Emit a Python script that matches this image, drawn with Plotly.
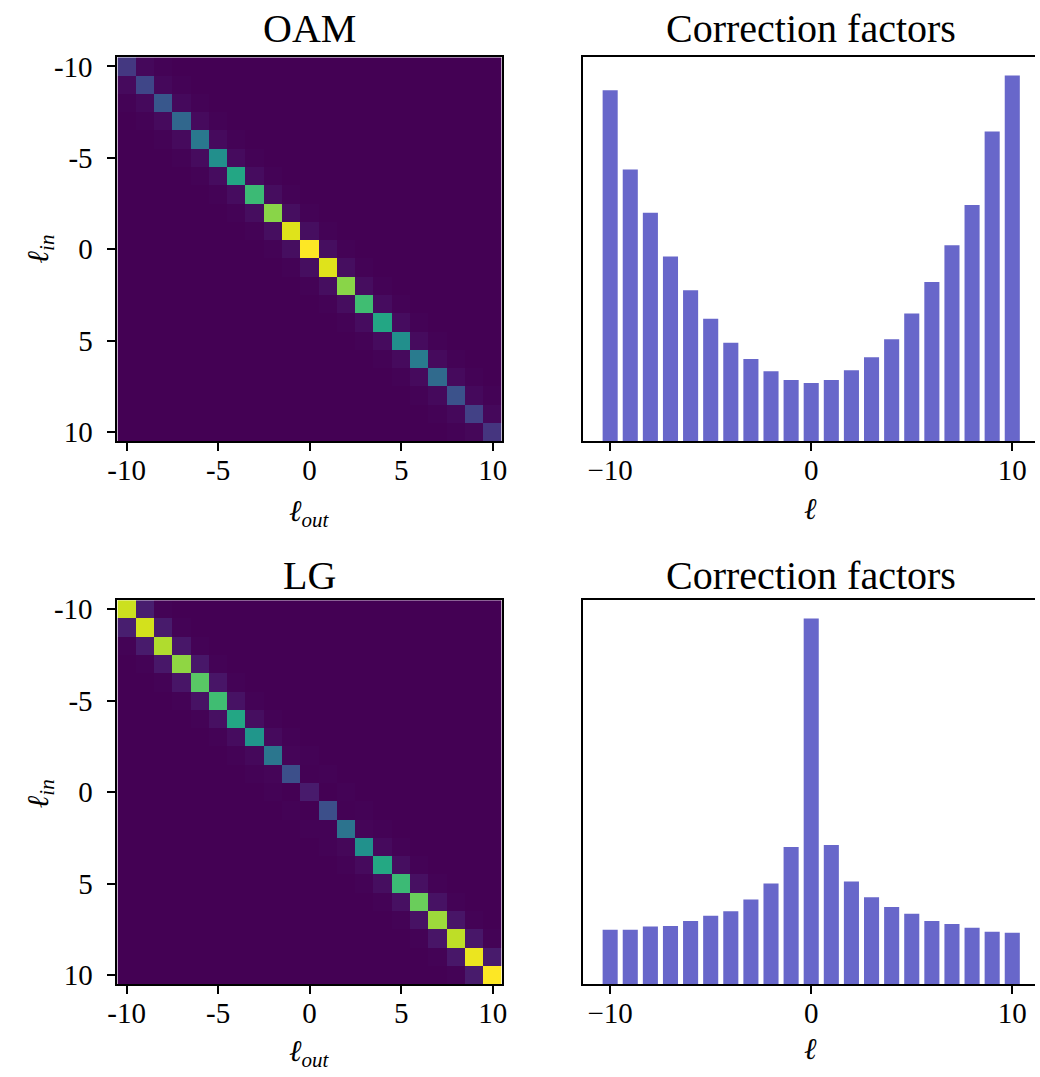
import numpy as np
import plotly.graph_objects as go

ells = list(range(-10, 11))

# Diagonal of the OAM crosstalk matrix (normalised intensity)
oam_diag = [0.16, 0.21, 0.27, 0.33, 0.40, 0.49, 0.59, 0.68, 0.82, 0.95, 1.00,
            0.95, 0.82, 0.69, 0.59, 0.49, 0.41, 0.34, 0.25, 0.19, 0.15]
oam_upper1 = [0.02, 0.02, 0.022, 0.025, 0.025, 0.028, 0.03, 0.032, 0.035, 0.035,
              0.035, 0.035, 0.032, 0.03, 0.03, 0.028, 0.025, 0.025, 0.022, 0.02]
oam_lower1 = [0.025, 0.022, 0.025, 0.025, 0.028, 0.03, 0.03, 0.032, 0.035, 0.035,
              0.035, 0.035, 0.032, 0.03, 0.028, 0.025, 0.025, 0.022, 0.02, 0.015]
oam_upper2 = [0.005] * 19
oam_lower2 = [0.005] * 19

# Diagonal of the LG crosstalk matrix
lg_diag = [0.92, 0.93, 0.88, 0.83, 0.74, 0.69, 0.59, 0.52, 0.39, 0.24, 0.07,
           0.24, 0.38, 0.50, 0.60, 0.68, 0.77, 0.85, 0.90, 0.97, 1.00]
lg_upper1 = [0.08, 0.07, 0.06, 0.06, 0.055, 0.045, 0.035, 0.025, 0.012, 0.003,
             0.0, 0.003, 0.012, 0.025, 0.035, 0.04, 0.045, 0.055, 0.06, 0.07]
lg_lower1 = [0.08, 0.07, 0.06, 0.055, 0.045, 0.04, 0.03, 0.02, 0.01, 0.0,
             0.0, 0.006, 0.015, 0.025, 0.035, 0.04, 0.045, 0.055, 0.06, 0.07]
lg_upper2 = [0.006] * 19
lg_lower2 = [0.006] * 19

# Correction factors (bar heights)
oam_corr = [6.02, 4.66, 3.92, 3.17, 2.59, 2.10, 1.69, 1.41, 1.20, 1.05, 1.00,
            1.05, 1.22, 1.44, 1.75, 2.19, 2.73, 3.36, 4.05, 5.31, 6.27]
lg_corr = [1.06, 1.06, 1.12, 1.13, 1.23, 1.33, 1.42, 1.65, 1.96, 2.67, 7.12,
           2.71, 2.00, 1.69, 1.50, 1.37, 1.23, 1.17, 1.10, 1.02, 1.00]

heat_tickvals = [-10, -5, 0, 5, 10]
heat_ticktext = ["-10", "-5", "0", "5", "10"]
bar_tickvals = [-10, 0, 10]
bar_ticktext = ["\u221210", "0", "10"]


def build(diag, u1, l1, u2, l2):
    return (np.diag(diag) + np.diag(u1, 1) + np.diag(l1, -1)
            + np.diag(u2, 2) + np.diag(l2, -2))


oam_mat = build(oam_diag, oam_upper1, oam_lower1, oam_upper2, oam_lower2)
lg_mat = build(lg_diag, lg_upper1, lg_lower1, lg_upper2, lg_lower2)

W, H = 1040, 1077
FONT = "Liberation Serif"
BAR_COLOR = "#6867ca"

viridis = [
    [0.0, "#440154"], [0.0625, "#48186a"], [0.125, "#472d7b"], [0.1875, "#424086"],
    [0.25, "#3b528b"], [0.3125, "#33638d"], [0.375, "#2c728e"], [0.4375, "#26828e"],
    [0.5, "#21918c"], [0.5625, "#1fa088"], [0.625, "#28ae80"], [0.6875, "#3fbc73"],
    [0.75, "#5ec962"], [0.8125, "#84d44b"], [0.875, "#addc30"], [0.9375, "#d8e219"],
    [1.0, "#fde725"],
]


def px(x):
    return x / W


def py(y):
    return 1 - y / H


fig = go.Figure()
fig.add_trace(go.Heatmap(z=oam_mat, x=ells, y=ells, colorscale=viridis,
                         zmin=0, zmax=1, showscale=False, xaxis="x", yaxis="y"))
fig.add_trace(go.Bar(x=ells, y=oam_corr, width=0.75, marker_color=BAR_COLOR,
                     marker_line_width=0, xaxis="x2", yaxis="y2"))
fig.add_trace(go.Heatmap(z=lg_mat, x=ells, y=ells, colorscale=viridis,
                         zmin=0, zmax=1, showscale=False, xaxis="x3", yaxis="y3"))
fig.add_trace(go.Bar(x=ells, y=lg_corr, width=0.75, marker_color=BAR_COLOR,
                     marker_line_width=0, xaxis="x4", yaxis="y4"))

tickfont = dict(family=FONT, size=29, color="black")
common = dict(showline=True, linecolor="black", linewidth=2, ticks="outside",
              ticklen=8, tickwidth=2, tickcolor="black", showgrid=False,
              zeroline=False, tickfont=tickfont)

top_dom = [py(440), py(51)]
bot_dom = [py(990), py(601)]
heat_x = [px(109), px(499)]
bar_x = [px(581), 1.0]

layout = dict(
    width=W, height=H, margin=dict(l=0, r=0, t=0, b=0),
    paper_bgcolor="white", plot_bgcolor="white", showlegend=False,
    font=dict(family=FONT, color="black"),
)
# heatmap axes
for xa, ya, dom in [("xaxis", "yaxis", top_dom), ("xaxis3", "yaxis3", bot_dom)]:
    yname = "y" if ya == "yaxis" else "y3"
    xname = "x" if xa == "xaxis" else "x3"
    layout[xa] = dict(domain=heat_x, range=[-10.5, 10.5], anchor=yname, mirror=True,
                      tickvals=heat_tickvals, ticktext=heat_ticktext,
                      ticklabelstandoff=-6, **common)
    layout[ya] = dict(domain=dom, range=[10.5, -10.5], anchor=xname, mirror=True,
                      tickvals=heat_tickvals, ticktext=heat_ticktext,
                      ticklabelstandoff=9, **common)
# bar axes
for xa, ya, dom, vals in [("xaxis2", "yaxis2", top_dom, oam_corr),
                          ("xaxis4", "yaxis4", bot_dom, lg_corr)]:
    yname = "y2" if ya == "yaxis2" else "y4"
    xname = "x2" if xa == "xaxis2" else "x4"
    layout[xa] = dict(domain=bar_x, range=[-11.37, 11.13], anchor=yname, mirror=True,
                      tickvals=bar_tickvals, ticktext=bar_ticktext,
                      ticklabelstandoff=-6, **common)
    layout[ya] = dict(domain=dom, range=[0, max(vals) * 1.05], anchor=xname,
                      showline=True, linecolor="black", linewidth=2, mirror=False,
                      ticks="", showticklabels=False, showgrid=False, zeroline=False)

fig.update_layout(**layout)

title_font = dict(family=FONT, size=40, color="black")
label_font = dict(family=FONT, size=30, color="black")
ann = []
for text, x, y in [("OAM", 304, 22), ("Correction factors", 813, 22),
                   ("LG", 304, 576), ("Correction factors", 813, 576)]:
    ann.append(dict(text=text, x=px(x), y=py(y), xref="paper", yref="paper",
                    showarrow=False, xanchor="center", yanchor="middle", font=title_font))
for y in [513, 1060]:
    ann.append(dict(text="<i>\u2113<sub>out</sub></i>", x=px(304), y=py(y), xref="paper",
                    yref="paper", showarrow=False, xanchor="center", yanchor="middle",
                    font=label_font))
for y in [508, 1055]:
    ann.append(dict(text="<i>\u2113</i>", x=px(812), y=py(y), xref="paper",
                    yref="paper", showarrow=False, xanchor="center", yanchor="middle",
                    font=label_font))
for y in [245, 797]:
    ann.append(dict(text="<i>\u2113<sub>in</sub></i>", x=px(30), y=py(y), xref="paper",
                    yref="paper", showarrow=False, xanchor="center", yanchor="middle",
                    textangle=-90, font=label_font))
fig.update_layout(annotations=ann)

fig.write_html("out.html", post_script="document.body.style.margin='0';")
